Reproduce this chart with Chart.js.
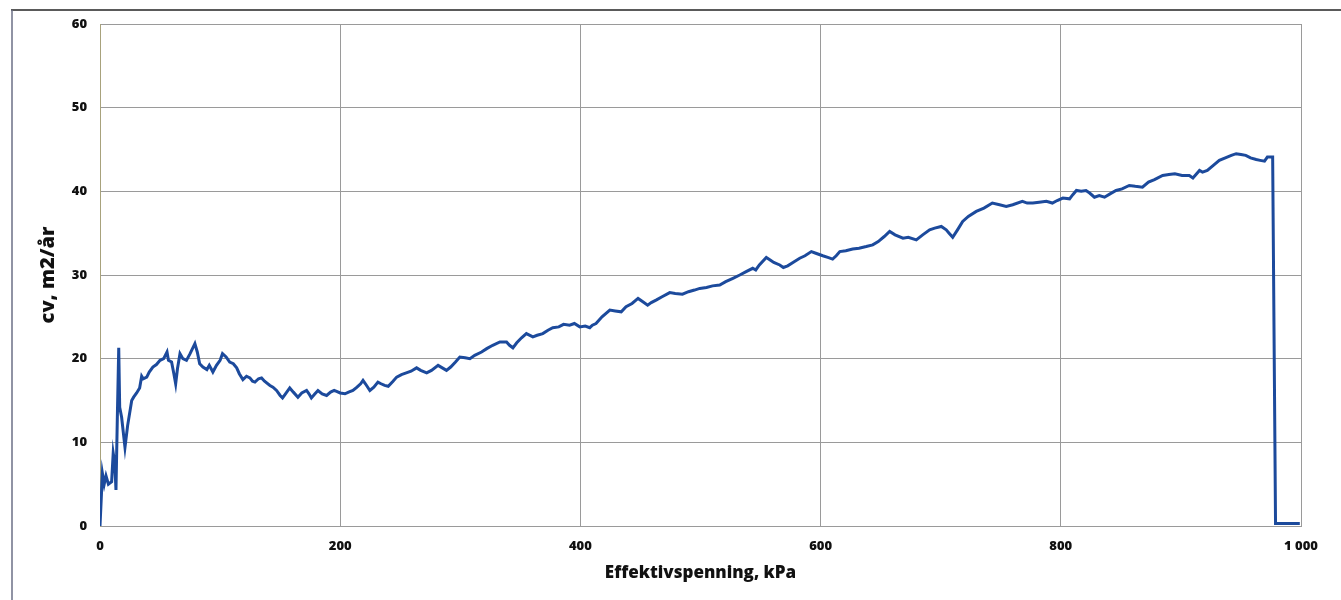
<!DOCTYPE html>
<html>
<head>
<meta charset="utf-8">
<title>cv mot effektivspenning</title>
<script src="https://cdn.jsdelivr.net/npm/chart.js@4/dist/chart.umd.min.js"></script>
<style>
  html, body { margin: 0; padding: 0; background: #fff; }
  canvas { display: block; }
</style>
</head>
<body>
<canvas id="cvChart" width="1341" height="600"></canvas>
<script>
// Effektivspenning (kPa)
var spenning = [
    0, 2, 3.5, 5, 7, 9.7, 11, 12.3, 13.3, 14.4, 15.6, 16.4, 18, 20.8, 23, 26.4, 28, 30.5, 33, 34.7,
    36, 38.9, 41, 44, 47, 50, 53, 55.8, 57, 59.6, 61.5, 63, 64.5, 66.6, 69, 72, 75, 79, 81, 83,
    85.7, 89, 91, 94, 97, 100, 102, 105, 108, 111, 113.8, 116, 119, 122, 124.8, 127, 129, 132, 134.5, 137,
    141.5, 144, 147, 150, 152, 154, 158, 161, 164.8, 168, 172, 174, 176, 179, 181.5, 185, 188.7, 192, 195, 197,
    200, 204, 207, 210.6, 214, 217, 219, 221, 224.7, 228, 231.4, 234, 237, 240, 244, 247, 251, 255, 259, 263.6,
    267, 272, 276, 281.5, 285, 288.5, 292, 296, 299.6, 304, 308, 312, 317.7, 322, 327, 333, 338.5, 341, 343.8, 347,
    351, 355, 360.4, 364, 368.7, 373, 377, 382, 386, 391, 395, 399.5, 404, 407.8, 410, 413, 418, 424.5, 429, 434,
    438, 443, 448, 452, 456, 459, 463, 468, 474.4, 479, 485, 490, 495, 499.4, 505, 510, 516, 521, 527, 532.7,
    538, 543.5, 546, 549, 554.8, 558, 561, 566, 569, 572.6, 577, 582.6, 587, 592.3, 596, 601.8, 606, 610, 613, 616,
    621, 626.7, 632, 638, 643.4, 648, 653, 657.5, 662, 668.6, 673, 679.7, 685, 690.8, 695, 700.5, 704.6, 707, 710, 714,
    718.3, 723, 729.6, 736, 743, 749, 754.6, 760, 768, 772, 776.7, 782, 788, 793, 797, 801.7, 807.3, 810, 813, 817,
    821, 824, 828, 832, 836.4, 841, 846, 851, 857, 862, 868, 873, 878, 884.8, 890, 895, 901, 907, 910, 915.5,
    918, 922, 927, 932, 937, 942, 946, 950, 954, 958, 962.7, 966, 969.6, 972, 976.4, 978.8, 999
];

// cv (m2/år)
var cv = [
    0, 6.3, 5, 6, 5, 5.3, 8.7, 7.5, 4.3, 12.7, 21.3, 14.2, 13, 9.4, 12, 15, 15.4, 15.9, 16.5, 17.9,
    17.6, 17.8, 18.4, 19, 19.3, 19.8, 20, 20.8, 19.8, 19.6, 18.2, 17, 18.8, 20.6, 20, 19.8, 20.6, 21.8, 20.8, 19.4,
    19, 18.7, 19.2, 18.4, 19.2, 19.8, 20.6, 20.2, 19.6, 19.4, 18.9, 18.2, 17.5, 17.9, 17.7, 17.3, 17.2, 17.6, 17.7, 17.3,
    16.8, 16.6, 16.2, 15.6, 15.3, 15.7, 16.5, 16, 15.4, 15.9, 16.2, 15.8, 15.3, 15.8, 16.2, 15.8, 15.6, 16, 16.2, 16.1,
    15.9, 15.8, 16, 16.2, 16.6, 17, 17.4, 17, 16.2, 16.6, 17.2, 17, 16.8, 16.7, 17.3, 17.8, 18.1, 18.3, 18.5, 18.9,
    18.6, 18.3, 18.6, 19.2, 18.9, 18.6, 19, 19.6, 20.2, 20.1, 20, 20.4, 20.8, 21.2, 21.6, 22, 22, 21.6, 21.3, 21.9,
    22.5, 23, 22.6, 22.8, 23, 23.4, 23.7, 23.8, 24.1, 24, 24.2, 23.8, 23.9, 23.7, 24, 24.2, 25, 25.8, 25.7, 25.6,
    26.2, 26.6, 27.2, 26.8, 26.4, 26.7, 27, 27.4, 27.9, 27.8, 27.7, 28, 28.2, 28.4, 28.5, 28.7, 28.8, 29.2, 29.6, 30,
    30.4, 30.8, 30.6, 31.2, 32.1, 31.8, 31.5, 31.2, 30.9, 31.1, 31.5, 32, 32.3, 32.8, 32.6, 32.3, 32.1, 31.9, 32.3, 32.8,
    32.9, 33.1, 33.2, 33.4, 33.6, 34, 34.6, 35.2, 34.8, 34.4, 34.5, 34.2, 34.8, 35.4, 35.6, 35.8, 35.4, 35, 34.5, 35.4,
    36.4, 37, 37.6, 38, 38.6, 38.4, 38.2, 38.4, 38.8, 38.6, 38.6, 38.7, 38.8, 38.6, 38.9, 39.2, 39.1, 39.6, 40.1, 40,
    40.1, 39.8, 39.3, 39.5, 39.3, 39.7, 40.1, 40.3, 40.7, 40.6, 40.5, 41.1, 41.4, 41.9, 42, 42.1, 41.9, 41.9, 41.6, 42.5,
    42.3, 42.5, 43.1, 43.7, 44, 44.3, 44.5, 44.4, 44.3, 44, 43.8, 43.7, 43.6, 44.1, 44.1, 0.3, 0.3
];

// axis ticks
var xTicks = [0, 200, 400, 600, 800, 1000];
var xTickLabels = ['0', '200', '400', '600', '800', '1 000'];
var yTicks = [0, 10, 20, 30, 40, 50, 60];

var points = spenning.map(function(x, i) { return { x: x, y: cv[i] }; });

// page frame lines around the chart
var framePlugin = {
    id: 'frame',
    beforeDraw: function(chart) {
        var ctx = chart.ctx;
        ctx.save();
        ctx.fillStyle = '#ffffff';
        ctx.fillRect(0, 0, chart.width, chart.height);
        ctx.restore();
    },
    afterDraw: function(chart) {
        var ctx = chart.ctx;
        ctx.save();
        ctx.strokeStyle = '#5a5a5a';
        ctx.lineWidth = 2;
        ctx.beginPath();
        ctx.moveTo(11, 10);
        ctx.lineTo(chart.width, 10);
        ctx.stroke();
        ctx.strokeStyle = '#6b6f86';
        ctx.lineWidth = 1.5;
        ctx.beginPath();
        ctx.moveTo(12, 10);
        ctx.lineTo(12, chart.height);
        ctx.stroke();
        ctx.restore();
    }
};

var tickFont = { family: 'Open Sans', size: 13, weight: 800 };

new Chart(document.getElementById('cvChart').getContext('2d'), {
    type: 'scatter',
    data: {
        datasets: [{
            data: points,
            showLine: true,
            borderColor: '#1c4a9c',
            borderWidth: 3,
            pointRadius: 0,
            tension: 0,
            fill: false
        }]
    },
    options: {
        responsive: false,
        animation: false,
        layout: { padding: { top: 24, right: 40, bottom: 0, left: 0 } },
        plugins: { legend: { display: false }, tooltip: { enabled: false } },
        scales: {
            x: {
                type: 'linear',
                min: 0,
                max: 1000,
                afterBuildTicks: function(scale) {
                    scale.ticks = xTicks.map(function(v) { return { value: v }; });
                },
                afterFit: function(scale) { scale.height = 74; },
                grid: { color: '#9a9a9a', drawTicks: false },
                border: { color: '#9a9a9a' },
                ticks: {
                    padding: 12,
                    color: '#111',
                    font: tickFont,
                    maxRotation: 0,
                    callback: function(v) { return xTickLabels[xTicks.indexOf(v)]; }
                },
                title: {
                    display: true,
                    text: 'Effektivspenning, kPa',
                    color: '#111',
                    font: { family: 'Open Sans', size: 17, weight: 800 },
                    padding: { top: 0, bottom: 17 }
                }
            },
            y: {
                type: 'linear',
                min: 0,
                max: 60,
                afterBuildTicks: function(scale) {
                    scale.ticks = yTicks.map(function(v) { return { value: v }; });
                },
                afterFit: function(scale) { scale.width = 100; },
                grid: { color: '#9a9a9a', drawTicks: false },
                border: { color: '#a8a27c' },
                ticks: {
                    padding: 13,
                    color: '#111',
                    font: tickFont
                },
                title: {
                    display: true,
                    text: 'cv, m2/år',
                    color: '#111',
                    font: { family: 'Open Sans', size: 20, weight: 800 },
                    padding: { top: 36, bottom: 0 }
                }
            }
        }
    },
    plugins: [framePlugin]
});
</script>
</body>
</html>
